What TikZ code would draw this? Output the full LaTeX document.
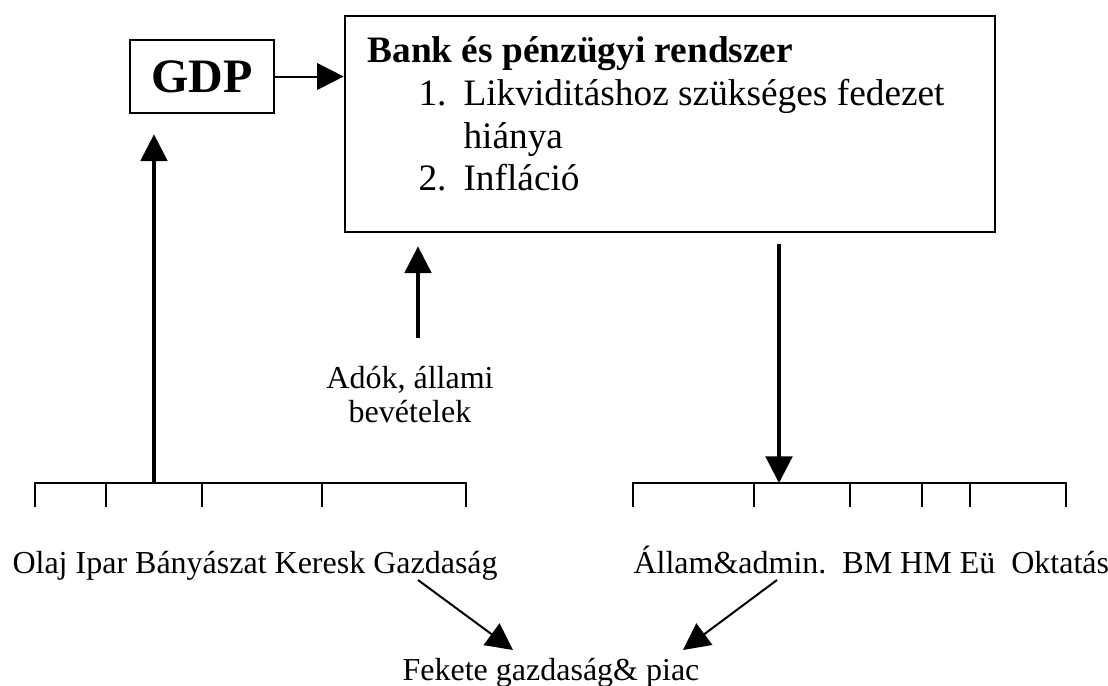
\documentclass[tikz,border=0pt]{standalone}
\usepackage{fontspec}
\setmainfont{Liberation Serif}
\usetikzlibrary{arrows.meta}

\begin{document}
\begin{tikzpicture}[
		x=0.375pt, y=-0.375pt,
		box/.style={rectangle, draw=black, line width=1pt, inner sep=0pt},
		lbl/.style={inner sep=0pt, anchor=base west, font=\fontsize{12}{12.75}\selectfont},
		item/.style={inner sep=0pt, anchor=base west, font=\fontsize{14}{16}\selectfont},
		arr/.style={line width=0.75pt, -{Triangle[length=10pt,width=10pt]}},
		thickarr/.style={line width=1.2pt, -{Triangle[length=10pt,width=10pt]}},
		bar/.style={line width=0.75pt}
	]
		\useasboundingbox (0,0) rectangle (1108,686);
		\node[box, minimum width=54pt, minimum height=27.4pt, font=\fontsize{18}{20}\selectfont\bfseries](gdp) at (202,76.5){GDP};
		\node[box, minimum width=243.75pt, minimum height=81pt](bank) at (670,124){};
		
		\node[item, font=\fontsize{14}{16}\selectfont\bfseries](title) at (367,62){Bank és pénzügyi rendszer};
		\node[item](num-1) at (418,105){1.};
		\node[item](item-1) at (463,105){Likviditáshoz szükséges fedezet};
		\node[item](item-1b) at (463,148){hiánya};
		\node[item](num-2) at (418,190){2.};
		\node[item](item-2) at (463,190){Infláció};
		
		\node[lbl, anchor=north, align=center](taxes) at (410,366){Adók, állami\\bevételek};
		\node[lbl](sources) at (12,573){Olaj Ipar Bányászat Keresk Gazdaság};
		\node[lbl](sectors) at (633,573){Állam\&admin.\ \ BM HM Eü\ \ Oktatás};
		\node[lbl, anchor=base](black) at (551,680){Fekete gazdaság\& piac};
		
		\coordinate (lbar) at (154,483);
		\coordinate (rbar) at (779,483);
		\coordinate (taxtail) at (418,338);
		\coordinate (src-out) at (418,580);
		\coordinate (src-in) at (513,650);
		\coordinate (sec-out) at (777,580);
		\coordinate (sec-in) at (683,650);
		
		\draw[bar](35,507) -- (35,483) -- (466,483) -- (466,507);
		\foreach \x in {106,202,322} \draw[bar](\x,483) -- (\x,507);
		\draw[bar](633,507) -- (633,483) -- (1066,483) -- (1066,507);
		\foreach \x in {754,850,922,970} \draw[bar](\x,483) -- (\x,507);
		
		\draw[arr](gdp.east) -- (gdp.east -| bank.west);
		\draw[thickarr, shorten >=7.5pt](lbar) -- (lbar |- gdp.south);
		\draw[thickarr, shorten >=4.9pt](taxtail) -- (taxtail |- bank.south);
		\draw[thickarr, shorten <=4pt](rbar |- bank.south) -- (rbar);
		\draw[arr](src-out) -- (src-in);
		\draw[arr](sec-out) -- (sec-in);
	\end{tikzpicture}
\end{document}
